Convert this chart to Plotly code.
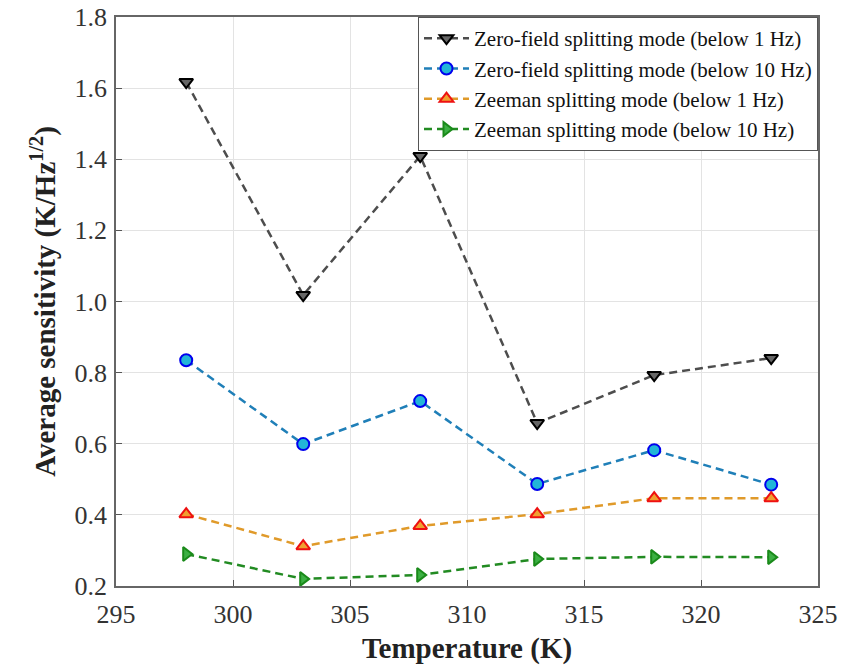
import plotly.graph_objects as go

temps = [298, 303, 308, 313, 318, 323]
zfs_1hz = [1.617, 1.018, 1.409, 0.658, 0.793, 0.841]
zfs_10hz = [0.835, 0.599, 0.720, 0.487, 0.582, 0.485]
zee_1hz = [0.402, 0.312, 0.369, 0.402, 0.447, 0.447]
zee_10hz = [0.290, 0.220, 0.231, 0.276, 0.282, 0.281]

names = [
    "Zero-field splitting mode (below 1 Hz)",
    "Zero-field splitting mode (below 10 Hz)",
    "Zeeman splitting mode (below 1 Hz)",
    "Zeeman splitting mode (below 10 Hz)",
]
series = [zfs_1hz, zfs_10hz, zee_1hz, zee_10hz]
line_colors = ["#4d4d4d", "#1f7fb8", "#e09a2a", "#228b22"]
marker_fill = ["#666666", "#22b5d8", "#f0a030", "#3cb043"]
marker_edge = ["#000000", "#0000ee", "#ee1111", "#1a8a1a"]
symbols = ["triangle-down", "circle", "triangle-up", "triangle-right"]

FONT = "Liberation Serif, Times New Roman, serif"

fig = go.Figure()
for name, ys, lc, mf, me, sym in zip(names, series, line_colors, marker_fill, marker_edge, symbols):
    fig.add_trace(go.Scatter(
        x=temps, y=ys, name=name, mode="lines+markers",
        line=dict(color=lc, width=2.5, dash="8px,5px"),
        marker=dict(symbol=sym, size=12, color=mf, line=dict(color=me, width=2)),
    ))

axis_common = dict(
    showline=True, linecolor="#666666", linewidth=1.5, mirror=True,
    showgrid=True, gridcolor="#e3e3e3", gridwidth=1,
    ticks="inside", ticklen=6, tickcolor="#555555",
    tickfont=dict(family=FONT, size=26, color="#333333"),
    zeroline=False, automargin=False,
)

fig.update_layout(
    width=842, height=671,
    paper_bgcolor="white", plot_bgcolor="white",
    margin=dict(l=116, r=24, t=17, b=85),
    font=dict(family=FONT, color="#222222"),
    xaxis=dict(range=[295, 325], dtick=5, ticklabelstandoff=4,
               title=dict(text="<b>Temperature (K)</b>", font=dict(size=29, family=FONT, color="#222222"), standoff=10),
               **axis_common),
    yaxis=dict(range=[0.2, 1.8], dtick=0.2, tickformat=".1f", ticklabelstandoff=2,
               title=dict(text="<b>Average sensitivity (K/Hz<sup>1/2</sup>)</b>", font=dict(size=29, family=FONT, color="#222222"), standoff=10),
               **axis_common),
    legend=dict(x=1, y=1, xanchor="right", yanchor="top",
                bgcolor="white", bordercolor="#555555", borderwidth=1,
                font=dict(family=FONT, size=21, color="#111111"),
                tracegroupgap=0, itemwidth=45),
    showlegend=True,
)

fig.write_html("out.html")
